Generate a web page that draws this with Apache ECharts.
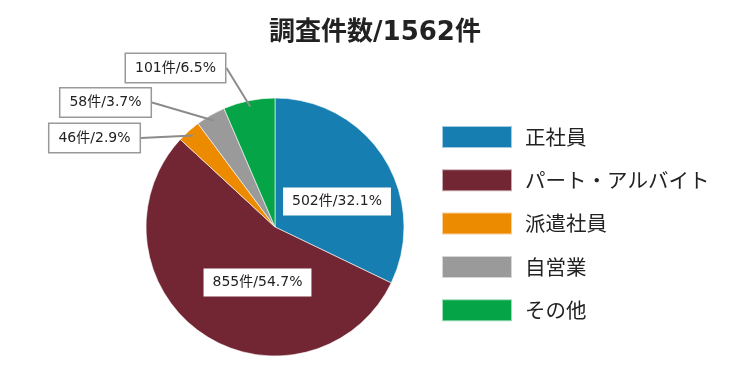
<!DOCTYPE html>
<html><head><meta charset="utf-8">
<script src="https://cdn.jsdelivr.net/npm/echarts@6/dist/echarts.min.js"></script>
<style>html,body{margin:0;padding:0;background:#fff}#c{width:750px;height:375px}</style>
</head><body><div id="c"></div>
<script>
const titleText = '調査件数/1562件';
const categories = ['正社員', 'パート・アルバイト', '派遣社員', '自営業', 'その他'];
const values = [502, 855, 46, 58, 101];
const colors = ['#167eb1', '#722633', '#ec8b00', '#9a9a9a', '#05a547'];
const total = values.reduce((a, b) => a + b, 0);
const FONT = '"DejaVu Sans", "Noto Sans CJK JP", sans-serif';
const CJK = '"Noto Sans CJK JP", sans-serif';
// pie geometry
const CX = 275, CY = 227, R = 129, LINE_END_R = 123, START = 90;
// label anchor positions (centre of label box)
const labelPos = [[337, 201.5], [257.5, 282.5], [94.5, 138], [105.5, 102.5], [175.5, 68]];
const insideSet = [true, true, false, false, false];

function midAngle(i) {
  let cum = 0;
  for (let k = 0; k < i; k++) cum += values[k];
  return (START - (cum + values[i] / 2) / total * 360) * Math.PI / 180;
}
const fmt = p => p.value + '件/' + (p.value / total * 100).toFixed(1) + '%';
const baseLabel = {
  formatter: fmt, fontFamily: FONT, fontSize: 14, lineHeight: 16, color: '#222',
  backgroundColor: '#fff', padding: [6, 9, 6, 9]
};

const chart = echarts.init(document.getElementById('c'));
chart.setOption({
  animation: false,
  title: { text: titleText, left: 'center', top: 15,
    textStyle: { fontFamily: FONT, fontSize: 26, fontWeight: 'bold', color: '#222' } },
  legend: {
    orient: 'vertical', left: 441, top: 125, padding: 0,
    itemWidth: 70, itemHeight: 22, itemGap: 19.3,
    icon: 'rect',
    textStyle: { fontFamily: CJK, fontSize: 20.5, lineHeight: 22, color: '#222', padding: [0, 0, 0, 8] },
    data: categories
  },
  series: [{
    type: 'pie', z: 2,
    center: [CX, CY], radius: R, startAngle: START, clockwise: true,
    avoidLabelOverlap: false,
    itemStyle: { borderColor: 'rgba(255,255,255,0.6)', borderWidth: 1 },
    label: Object.assign({}, baseLabel, { position: 'inside' }),
    labelLine: { show: false },
    labelLayout: p => ({ x: labelPos[p.dataIndex][0], y: labelPos[p.dataIndex][1], align: 'center', verticalAlign: 'middle' }),
    data: categories.map((n, i) => ({
      name: n, value: values[i],
      itemStyle: { color: colors[i] },
      label: { show: insideSet[i] }
    }))
  }, {
    type: 'pie', z: 3, silent: true,
    center: [CX, CY], radius: R, startAngle: START, clockwise: true,
    avoidLabelOverlap: false,
    itemStyle: { color: 'rgba(0,0,0,0)', borderWidth: 0 },
    label: Object.assign({}, baseLabel, { position: 'outside', borderColor: '#999', borderWidth: 1.5 }),
    labelLine: { lineStyle: { color: '#8c8c8c', width: 2, opacity: 1 }, length: 20, length2: 10 },
    labelLayout: p => {
      const i = p.dataIndex;
      const [lx, ly] = labelPos[i];
      const a = midAngle(i);
      const ex = CX + LINE_END_R * Math.cos(a), ey = CY - LINE_END_R * Math.sin(a);
      const sx = lx + p.labelRect.width / 2, sy = ly;
      return { x: lx, y: ly, align: 'center', verticalAlign: 'middle',
        labelLinePoints: [[ex, ey], [(ex + sx) / 2, (ey + sy) / 2], [sx, sy]] };
    },
    data: categories.map((n, i) => ({
      name: n, value: values[i],
      label: { show: !insideSet[i] },
      labelLine: { show: !insideSet[i] }
    }))
  }]
});
</script></body></html>
